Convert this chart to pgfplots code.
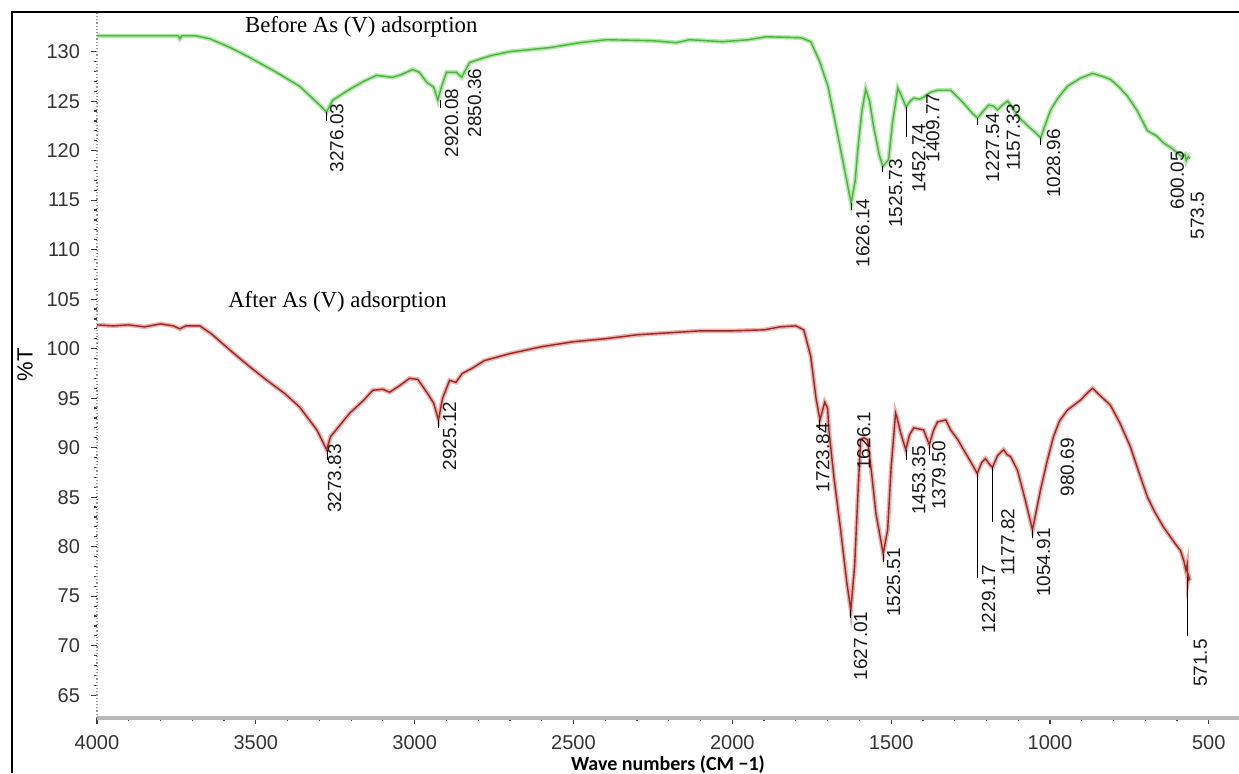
\documentclass[border=0pt]{standalone}
\usepackage{pgfplots}
\usepackage{pgfplotstable}
\pgfplotsset{compat=1.18}
\usepackage{fontspec}
\setmainfont{Liberation Sans}
\newfontfamily\timesf{Liberation Serif}
\newfontfamily\carl{Carlito}
\definecolor{grncore}{RGB}{80,175,70}
\definecolor{grnhalo}{RGB}{175,235,165}
\definecolor{rdcore}{RGB}{150,40,40}
\definecolor{rdhalo}{RGB}{240,175,170}

\pgfplotstableread{
w v
4000 131.6
3900 131.6
3800 131.6
3745 131.6
3739 131.3
3733 131.6
3690 131.6
3645 131.3
3580 130.4
3519 129.4
3440 128.0
3362 126.5
3299 124.6
3277 123.9
3258 125.1
3204 126.2
3160 127.0
3120 127.6
3069 127.4
3040 127.7
3006 128.2
2985 127.9
2962 126.9
2940 126.4
2927 125.1
2915 126.5
2900 127.9
2868 127.9
2852 127.4
2827 128.9
2760 129.6
2700 130.0
2575 130.4
2480 130.9
2396 131.2
2250 131.1
2176 130.9
2135 131.2
2031 131.0
1950 131.2
1893 131.5
1784 131.4
1753 131.0
1725 129.0
1699 126.5
1680 123.5
1659 120.1
1640 117.0
1626 114.7
1613 117.0
1605 120.1
1592 124.0
1580 126.2
1568 125.0
1555 122.4
1537 119.5
1526 118.4
1508 119.1
1495 123.0
1479 126.3
1467 125.5
1453 124.4
1440 125.0
1429 125.3
1410 125.2
1398 125.4
1375 125.9
1354 126.1
1313 126.1
1272 124.8
1245 123.8
1228 123.3
1210 124.0
1193 124.6
1178 124.5
1165 124.1
1150 124.6
1133 125.0
1115 124.2
1102 123.5
1070 122.5
1045 121.8
1029 121.3
1015 122.6
998 124.1
975 125.3
945 126.5
905 127.3
866 127.8
835 127.5
810 127.2
785 126.5
756 125.5
725 124.0
693 122.0
665 121.5
643 120.8
615 120.2
600 119.8
585 119.4
575 119.6
571 119.0
565 119.4
560 119.2
}\before

\pgfplotstableread{
w v
4000 102.4
3950 102.3
3900 102.4
3850 102.2
3800 102.5
3760 102.3
3739 102.0
3720 102.3
3676 102.3
3640 101.5
3572 99.6
3520 98.2
3465 96.8
3410 95.5
3362 94.1
3308 91.8
3277 89.8
3265 91.1
3204 93.5
3160 94.8
3132 95.8
3100 95.9
3079 95.6
3050 96.2
3016 97.0
2990 96.9
2960 95.5
2940 94.5
2925 92.8
2912 95.0
2890 96.8
2870 96.6
2850 97.5
2820 98.0
2780 98.8
2700 99.5
2600 100.2
2500 100.7
2400 101.0
2300 101.4
2200 101.6
2100 101.8
2000 101.8
1900 101.9
1850 102.2
1800 102.3
1775 101.9
1753 99.2
1737 95.1
1724 92.8
1709 94.6
1700 94.0
1696 91.8
1680 87.0
1659 81.7
1640 76.5
1627 73.6
1615 78.0
1605 85.0
1596 90.8
1586 91.0
1574 90.8
1560 87.0
1548 83.4
1525 79.3
1511 81.7
1500 88.0
1486 93.5
1482 93.1
1470 91.5
1454 89.8
1442 91.3
1429 92.0
1398 91.8
1380 90.3
1366 91.8
1354 92.6
1328 92.8
1313 91.8
1290 90.8
1272 89.8
1250 88.6
1229 87.4
1215 88.5
1203 88.9
1190 88.3
1181 88.0
1165 89.2
1146 89.8
1135 89.3
1124 89.1
1102 87.7
1080 85.0
1055 81.7
1030 85.7
1010 88.5
989 91.1
970 92.7
945 93.8
904 94.8
880 95.6
866 96.0
850 95.5
810 94.3
780 92.5
747 90.1
720 87.5
693 85.0
670 83.5
643 82.0
610 80.5
589 79.6
578 78.5
572 77.6
568 78.2
566 76.5
563 77.0
560 76.6
}\after

\begin{document}
\begin{tikzpicture}
\useasboundingbox (-48.5pt,-27.5pt) rectangle (571pt,359pt);
\draw[line width=1.3pt] (-42.5pt,-27.5pt) -- (-42.5pt,353pt) -- (571pt,353pt);
\begin{axis}[
  at={(0,0)}, anchor=south west,
  scale only axis, width=571pt, height=353pt,
  x dir=reverse, xmin=405, xmax=4000, ymin=62.7, ymax=134,
  axis x line=bottom, axis y line=left,
  axis line style={-},
  x axis line style={line width=2pt, black!28},
  y axis line style={line width=0.6pt, black!40, densely dotted},
  xtick={500,1000,...,4000}, ytick={65,70,...,130},
  minor x tick num=4, minor y tick num=4,
  tick align=outside,
  major tick length=3pt, minor tick length=1.5pt,
  tick style={black!75, line width=0.6pt},
  ticklabel style={font=\fontsize{10}{12}\selectfont, text=black!80},
  yticklabel style={xshift=-2pt},
  xticklabel style={yshift=-2pt},
  /pgf/number format/assume math mode=true,
  /pgf/number format/1000 sep={},
  xlabel={\carl\bfseries Wave numbers (CM −1)},
  ylabel={\%T},
  every axis x label/.style={at={(axis description cs:0.5,-0.0666)}, anchor=center, font=\fontsize{10}{12}\selectfont},
  every axis y label/.style={at={(axis description cs:-0.063,0.5)}, rotate=90, anchor=center, font=\fontsize{11}{13}\selectfont},
  clip=false,
]
\addplot[grnhalo, line width=2.2pt, no marks] table[x=w,y=v] {\before};
\addplot[grncore, line width=0.7pt, no marks] table[x=w,y=v] {\before};
\addplot[rdhalo, line width=2.2pt, no marks] table[x=w,y=v] {\after};
\addplot[rdcore, line width=0.7pt, no marks] table[x=w,y=v] {\after};

\node[anchor=west, font=\timesf\fontsize{11.4}{13}\selectfont, inner sep=0pt] at (axis cs:3535,132.5) {Before As (V) adsorption};
\node[anchor=west, font=\timesf\fontsize{11.4}{13}\selectfont, inner sep=0pt] at (axis cs:3588,104.7) {After As (V) adsorption};

\tikzset{pk/.style={rotate=90, anchor=east, inner sep=0.5pt, font=\fontsize{9.5}{11}\selectfont, text=black!90}}
% before labels
\node[pk] at (axis cs:3245,124.9) {3276.03};
\node[pk] at (axis cs:2884,126.4) {2920.08};
\node[pk] at (axis cs:2811,128.4) {2850.36};
\node[pk] at (axis cs:1589,115.3) {1626.14};
\node[pk] at (axis cs:1486,119.3) {1525.73};
\node[pk] at (axis cs:1413,122.8) {1452.74};
\node[pk] at (axis cs:1369,125.9) {1409.77};
\node[pk] at (axis cs:1181,123.9) {1227.54};
\node[pk] at (axis cs:1115,124.9) {1157.33};
\node[pk] at (axis cs:989,122.3) {1028.96};
\node[pk] at (axis cs:599,120.1) {600.05};
\node[pk] at (axis cs:536,116.0) {573.5};
% after labels
\node[pk] at (axis cs:3252,90.5) {3273.83};
\node[pk] at (axis cs:2890,94.8) {2925.12};
\node[pk] at (axis cs:1715,92.6) {1723.84};
\node[pk] at (axis cs:1586,93.8) {1626.1};
\node[pk] at (axis cs:1596,73.6) {1627.01};
\node[pk] at (axis cs:1492,80.0) {1525.51};
\node[pk] at (axis cs:1413,90.3) {1453.35};
\node[pk] at (axis cs:1350,90.8) {1379.50};
\node[pk] at (axis cs:1193,78.3) {1229.17};
\node[pk] at (axis cs:1133,84.0) {1177.82};
\node[pk] at (axis cs:1020,82.0) {1054.91};
\node[pk] at (axis cs:945,91.1) {980.69};
\node[pk] at (axis cs:526,70.8) {571.5};

% marker lines
\draw[black, line width=0.5pt] (axis cs:1451,124.4) -- (axis cs:1451,121.4);
\draw[black, line width=0.5pt] (axis cs:1228,87.4) -- (axis cs:1228,76.8);
\draw[black, line width=0.5pt] (axis cs:1181,88.0) -- (axis cs:1181,82.5);
\draw[black, line width=0.5pt] (axis cs:567,76.9) -- (axis cs:567,71.0);
\draw[black, line width=0.5pt] (axis cs:3276,123.9) -- (axis cs:3276,123.0);
\draw[black, line width=0.5pt] (axis cs:2920,125.1) -- (axis cs:2920,124.3);
\draw[black, line width=0.5pt] (axis cs:1626,114.7) -- (axis cs:1626,114.0);
\draw[black, line width=0.5pt] (axis cs:1526,118.4) -- (axis cs:1526,117.8);
\draw[black, line width=0.5pt] (axis cs:1228,123.3) -- (axis cs:1228,122.6);
\draw[black, line width=0.5pt] (axis cs:1029,121.3) -- (axis cs:1029,120.6);
\draw[black, line width=0.5pt] (axis cs:3274,89.8) -- (axis cs:3274,88.8);
\draw[black, line width=0.5pt] (axis cs:2925,92.8) -- (axis cs:2925,92.0);
\draw[black, line width=0.5pt] (axis cs:1724,92.8) -- (axis cs:1724,91.8);
\draw[black, line width=0.5pt] (axis cs:1627,73.6) -- (axis cs:1627,72.8);
\draw[black, line width=0.5pt] (axis cs:1525,79.3) -- (axis cs:1525,78.5);
\draw[black, line width=0.5pt] (axis cs:1453,89.8) -- (axis cs:1453,88.8);
\draw[black, line width=0.5pt] (axis cs:1380,90.3) -- (axis cs:1380,89.3);
\draw[black, line width=0.5pt] (axis cs:1055,81.7) -- (axis cs:1055,80.9);
\end{axis}
\end{tikzpicture}
\end{document}
